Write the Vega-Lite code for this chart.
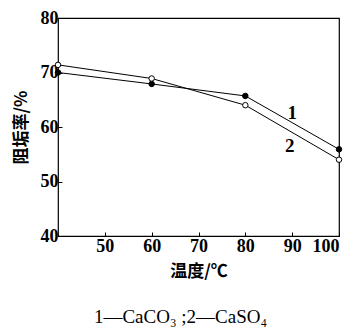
{
  "$schema": "https://vega.github.io/schema/vega-lite/v6.json",
  "autosize": "none",
  "width": 281,
  "height": 218,
  "padding": {"left": 58, "top": 18, "right": 15, "bottom": 93},
  "background": "white",
  "config": {
    "view": {"stroke": "black", "strokeWidth": 1.2},
    "font": "Liberation Serif"
  },
  "title": {
    "text": "1—CaCO₃ ;2—CaSO₄",
    "orient": "bottom",
    "offset": 29,
    "dx": -18,
    "font": "Liberation Serif",
    "fontSize": 19,
    "fontWeight": "normal",
    "color": "black",
    "anchor": "middle"
  },
  "datasets": {
    "pts": [
      {"t": 40, "r": 70.0, "s": "1"},
      {"t": 60, "r": 67.9, "s": "1"},
      {"t": 80, "r": 65.7, "s": "1"},
      {"t": 100, "r": 55.9, "s": "1"},
      {"t": 40, "r": 71.4, "s": "2"},
      {"t": 60, "r": 68.9, "s": "2"},
      {"t": 80, "r": 64.0, "s": "2"},
      {"t": 100, "r": 54.0, "s": "2"}
    ],
    "labs": [
      {"t": 90, "r": 62.6, "s": "1"},
      {"t": 89.5, "r": 56.6, "s": "2"}
    ]
  },
  "encoding": {
    "x": {
      "field": "t", "type": "quantitative",
      "scale": {"domain": [40, 100], "nice": false, "zero": false},
      "axis": {
        "values": [50, 60, 70, 80, 90, 100],
        "title": "温度/℃",
        "titleFont": "Noto Sans CJK SC",
        "titleFontSize": 17,
        "titleFontWeight": "bold",
        "titleColor": "black",
        "titlePadding": 8,
        "labelFont": "Liberation Serif",
        "labelFontSize": 18,
        "labelFontWeight": "bold",
        "labelColor": "black",
        "labelPadding": 5,
        "tickSize": -4,
        "tickColor": "black",
        "domain": false,
        "grid": false
      }
    },
    "y": {
      "field": "r", "type": "quantitative",
      "scale": {"domain": [40, 80], "nice": false, "zero": false},
      "axis": {
        "values": [40, 50, 60, 70, 80],
        "title": "阻垢率/%",
        "titleFont": "Noto Sans CJK SC",
        "titleFontSize": 17,
        "titleFontWeight": "bold",
        "titleColor": "black",
        "titlePadding": 10,
        "labelFont": "Liberation Serif",
        "labelFontSize": 18,
        "labelFontWeight": "bold",
        "labelColor": "black",
        "labelPadding": 4,
        "tickSize": -4,
        "tickColor": "black",
        "domain": false,
        "grid": false
      }
    }
  },
  "layer": [
    {
      "data": {"name": "pts"},
      "mark": {"type": "line", "color": "black", "strokeWidth": 1},
      "encoding": {"detail": {"field": "s", "type": "nominal"}}
    },
    {
      "data": {"name": "pts"},
      "mark": {"type": "point", "shape": "circle", "size": 30, "stroke": "black", "strokeWidth": 1, "opacity": 1},
      "encoding": {
        "fill": {
          "field": "s", "type": "nominal",
          "scale": {"domain": ["1", "2"], "range": ["black", "white"]},
          "legend": null
        }
      }
    },
    {
      "data": {"name": "labs"},
      "mark": {"type": "text", "font": "Liberation Serif", "fontSize": 19, "fontWeight": "bold", "color": "black"},
      "encoding": {"text": {"field": "s", "type": "nominal"}}
    }
  ]
}
